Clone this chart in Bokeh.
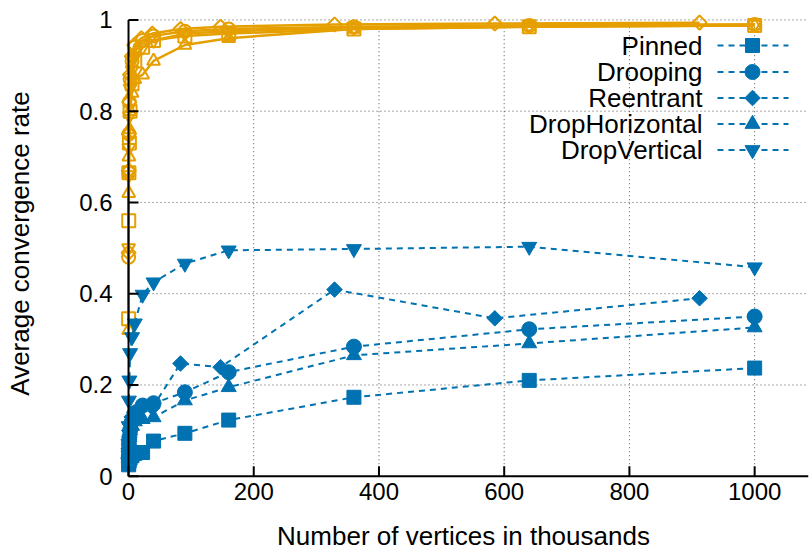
from bokeh.plotting import figure
from bokeh.models import FixedTicker, CustomJSTickFormatter, Range1d
from bokeh.core.properties import value
from bokeh.embed import file_html
from bokeh.resources import INLINE

# ---- data (x in thousands of vertices) ----
x_main = [0.156, 0.35, 0.625, 1.4, 2.5, 5.6, 10, 22.5, 40, 90, 160, 360, 640, 1000]
x_reentrant = [0.14, 0.32, 0.57, 1.28, 2.28, 5.1, 9.1, 20.5, 38, 83, 147, 329, 585, 912]

series_names = ["Pinned", "Drooping", "Reentrant", "DropHorizontal", "DropVertical"]

# blue (dashed, filled markers)
pinned_blue = [0.025, 0.03, 0.033, 0.037, 0.04, 0.045, 0.05, 0.052, 0.077, 0.094, 0.123, 0.173, 0.21, 0.237]
drooping_blue = [0.04, 0.055, 0.07, 0.085, 0.10, 0.12, 0.138, 0.155, 0.16, 0.184, 0.228, 0.284, 0.322, 0.35]
reentrant_blue = [0.04, 0.06, 0.08, 0.10, 0.115, 0.13, 0.14, 0.15, 0.15, 0.247, 0.239, 0.409, 0.346, 0.39]
drophoriz_blue = [0.04, 0.055, 0.07, 0.085, 0.10, 0.11, 0.12, 0.125, 0.129, 0.166, 0.195, 0.265, 0.291, 0.326]
dropvert_blue = [0.07, 0.11, 0.166, 0.21, 0.27, 0.305, 0.335, 0.398, 0.425, 0.466, 0.495, 0.498, 0.503, 0.458]

# orange (solid, open markers)
pinned_orange = [0.345, 0.56, 0.665, 0.73, 0.80, 0.86, 0.91, 0.94, 0.955, 0.965, 0.970, 0.98, 0.985, 0.988]
drooping_orange = [0.48, 0.665, 0.75, 0.82, 0.87, 0.91, 0.94, 0.955, 0.965, 0.975, 0.98, 0.985, 0.988, 0.99]
reentrant_orange = [0.49, 0.67, 0.75, 0.82, 0.88, 0.92, 0.945, 0.96, 0.97, 0.98, 0.985, 0.99, 0.992, 0.994]
drophoriz_orange = [0.32, 0.62, 0.70, 0.76, 0.80, 0.84, 0.87, 0.88, 0.91, 0.945, 0.96, 0.98, 0.985, 0.988]
dropvert_orange = [0.50, 0.66, 0.72, 0.79, 0.85, 0.89, 0.92, 0.94, 0.955, 0.97, 0.975, 0.983, 0.987, 0.99]

x_ticks = [0, 200, 400, 600, 800, 1000]
y_ticks = [0, 0.2, 0.4, 0.6, 0.8, 1]

BLUE = "#0072B2"
ORANGE = "#E69F00"
FONT = "Liberation Sans"

# view extents (a little room left/top so markers at the edges are not clipped)
X_MIN, X_MAX = -16, 1086
Y_MIN, Y_MAX = -0.005, 1.025
FR_L, FR_R, FR_T, FR_B = 118, 808, 8, 478  # frame edges in pixels


def px_x(px):
    return X_MIN + (px - FR_L) * (X_MAX - X_MIN) / (FR_R - FR_L)


def px_y(py):
    return Y_MAX - (py - FR_T) * (Y_MAX - Y_MIN) / (FR_B - FR_T)


def dx(npx):
    return npx * (X_MAX - X_MIN) / (FR_R - FR_L)


def dy(npx):
    return npx * (Y_MAX - Y_MIN) / (FR_B - FR_T)


blue_sets = [pinned_blue, drooping_blue, reentrant_blue, drophoriz_blue, dropvert_blue]
orange_sets = [pinned_orange, drooping_orange, reentrant_orange, drophoriz_orange, dropvert_orange]
xs_sets = [x_main, x_main, x_reentrant, x_main, x_main]
markers = ["square", "circle", "square", "triangle", "inverted_triangle"]
angles = [0, 0, 0.785398, 0, 0]
blue_sizes = [14, 15, 11, 15, 15]
orange_sizes = [13, 13, 10, 13, 13]

p = figure(width=810, height=554, x_range=Range1d(X_MIN, X_MAX), y_range=Range1d(Y_MIN, Y_MAX),
           output_backend="svg", toolbar_location=None,
           min_border_left=FR_L, min_border_right=810 - FR_R,
           min_border_top=FR_T, min_border_bottom=554 - FR_B)
p.outline_line_color = None
p.background_fill_color = "white"
p.border_fill_color = "white"
p.grid.visible = False

# ---- dotted grid drawn from the tick arrays ----
gy = y_ticks[1:]
p.segment(x0=[0] * len(gy), y0=gy, x1=[X_MAX] * len(gy), y1=gy,
          line_color="#333333", line_dash="1 3", line_width=1, line_alpha=0.85)
gx = x_ticks[1:]
p.segment(x0=gx, y0=[0] * len(gx), x1=gx, y1=[1] * len(gx),
          line_color="#333333", line_dash="1 3", line_width=1, line_alpha=0.85)

# ---- data ----
for xs, ys, m, a, s in zip(xs_sets, orange_sets, markers, angles, orange_sizes):
    p.line(xs, ys, line_color=ORANGE, line_width=2.5)
    p.scatter(xs, ys, marker=m, angle=a, size=s, fill_color=None, line_color=ORANGE, line_width=2)

for xs, ys, m, a, s in zip(xs_sets, blue_sets, markers, angles, blue_sizes):
    p.line(xs, ys, line_color=BLUE, line_width=2, line_dash="6 5")
    p.scatter(xs, ys, marker=m, angle=a, size=s, fill_color=BLUE, line_color=BLUE, line_width=1)

# ---- border (left & bottom) and inward ticks ----
p.segment(x0=[0, 0], y0=[0, 0], x1=[0, X_MAX], y1=[1, 0], line_color="black", line_width=2)
p.segment(x0=[0] * len(y_ticks), y0=y_ticks, x1=[dx(10)] * len(y_ticks), y1=y_ticks,
          line_color="black", line_width=2)
p.segment(x0=x_ticks, y0=[0] * len(x_ticks), x1=x_ticks, y1=[dy(10)] * len(x_ticks),
          line_color="black", line_width=2)

# ---- manual legend (gnuplot style: text right-aligned, sample on right) ----
leg_rows = [45, 71.5, 97.5, 123.5, 149.5]
leg_y = [px_y(r) for r in leg_rows]
p.text(x=[px_x(702)] * 5, y=leg_y, text=series_names, text_align="right", text_baseline="middle",
       text_font=value(FONT), text_font_size="26px", text_color="black")
p.segment(x0=[px_x(717)] * 5, y0=leg_y, x1=[px_x(788)] * 5, y1=leg_y,
          line_color=BLUE, line_width=2, line_dash="6 5")
for yy, m, a, s in zip(leg_y, markers, angles, blue_sizes):
    p.scatter([px_x(752)], [yy], marker=m, angle=a, size=s, fill_color=BLUE, line_color=BLUE)

# ---- axes (labels only; lines/ticks drawn above) ----
p.xaxis.ticker = FixedTicker(ticks=x_ticks)
p.yaxis.ticker = FixedTicker(ticks=y_ticks)
p.yaxis.formatter = CustomJSTickFormatter(code="return String(Math.round(tick*10)/10)")
p.xaxis.formatter = CustomJSTickFormatter(code="return String(Math.round(tick))")

for ax in (p.xaxis, p.yaxis):
    ax.axis_line_color = None
    ax.major_tick_line_color = None
    ax.minor_tick_line_color = None
    ax.major_tick_in = 0
    ax.major_tick_out = 0
    ax.major_label_text_font = FONT
    ax.major_label_text_font_size = "24px"
    ax.major_label_text_color = "black"
    ax.axis_label_text_font = FONT
    ax.axis_label_text_font_size = "26px"
    ax.axis_label_text_font_style = "normal"
    ax.axis_label_text_color = "black"

p.xaxis.axis_label = "Number of vertices in thousands"
p.yaxis.axis_label = "Average convergence rate"
p.xaxis.major_label_standoff = 4
p.xaxis.axis_label_standoff = 18
p.yaxis.major_label_standoff = 6
p.yaxis.axis_label_standoff = 41

open("out.html", "w").write(file_html(p, INLINE))
